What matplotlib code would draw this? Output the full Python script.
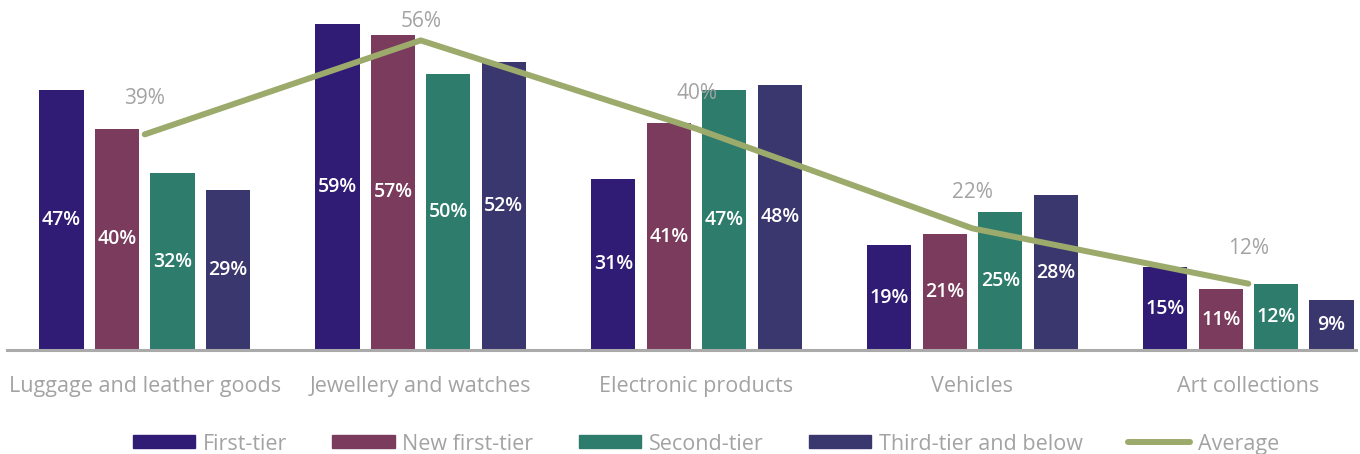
import numpy as np
import matplotlib
matplotlib.use("Agg")
import matplotlib.pyplot as plt
from matplotlib.patches import Patch
from matplotlib.lines import Line2D

categories = ["Luggage and leather goods", "Jewellery and watches",
              "Electronic products", "Vehicles", "Art collections"]
series_names = ["First-tier", "New first-tier", "Second-tier", "Third-tier and below"]
first_tier = [47, 59, 31, 19, 15]
new_first_tier = [40, 57, 41, 21, 11]
second_tier = [32, 50, 47, 25, 12]
third_tier = [29, 52, 48, 28, 9]
average = [39, 56, 40, 22, 12]

colors = ["#311c75", "#7a3b5c", "#2e7c6c", "#3a376e"]
avg_color = "#9caa6c"
gray = "#a3a3a3"

plt.rcParams['font.family'] = ['Open Sans', 'DejaVu Sans']

fig = plt.figure(figsize=(13.6, 4.54), dpi=100)
ax = fig.add_axes([0.005, 0.229, 0.992, 0.771])

x = np.arange(len(categories))
step = 0.201
width = 0.16
series = [first_tier, new_first_tier, second_tier, third_tier]
for i, vals in enumerate(series):
    pos = x + (i - 1.5) * step
    bars = ax.bar(pos, vals, width=width, color=colors[i], zorder=2)
    for b, v in zip(bars, vals):
        ax.text(b.get_x() + b.get_width() / 2, v / 2, f"{v}%", ha="center", va="center",
                color="white", fontsize=14, fontweight="semibold", zorder=4)

ax.plot(x, average, color=avg_color, lw=4.3, solid_capstyle="round", zorder=3)
# labels sit above the line points, kept inside the top edge
for xi, v in zip(x, average):
    ax.text(xi, min(v + 6.4, 59.4), f"{v}%", ha="center", va="center",
            color=gray, fontsize=15)

ax.set_xlim(-0.5, 4.39)
ax.set_ylim(0, 63.3)
ax.set_xticks(x)
ax.set_xticklabels(categories, color=gray, fontsize=15.5)
ax.tick_params(axis="x", length=0, pad=19)
ax.set_yticks([])
for s in ["top", "right", "left"]:
    ax.spines[s].set_visible(False)
ax.spines["bottom"].set_color("#aaaaaa")
ax.spines["bottom"].set_linewidth(2.2)

handles = [Patch(color=c) for c in colors] + [Line2D([0], [0], color=avg_color, lw=4.3, solid_capstyle="round")]
labels = series_names + ["Average"]
leg = fig.legend(handles, labels, loc="center", bbox_to_anchor=(0.519, 0.022), ncol=5,
                 frameon=False, fontsize=15.5, handlelength=2.9, handleheight=0.55,
                 handletextpad=0.35, columnspacing=2.1)
for t in leg.get_texts():
    t.set_color(gray)

fig.savefig("out.png", dpi=100)
